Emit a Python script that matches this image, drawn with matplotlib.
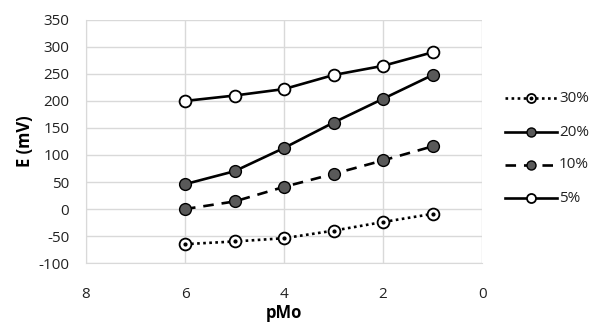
import matplotlib
matplotlib.use("Agg")
import matplotlib.pyplot as plt
from matplotlib.lines import Line2D

pmo = [6, 5, 4, 3, 2, 1]
s30 = [-65, -60, -54, -40, -24, -9]
s20 = [46, 70, 113, 160, 204, 248]
s10 = [0, 14, 41, 65, 90, 116]
s5 = [200, 210, 222, 248, 265, 290]
labels = ["30%", "20%", "10%", "5%"]

plt.rcParams['font.family'] = ['Open Sans', 'DejaVu Sans']
plt.rcParams['axes.unicode_minus'] = False
W, H = 593, 326
fig = plt.figure(figsize=(W / 100, H / 100), dpi=100)
ax = fig.add_axes([0.145, 0.193, 0.668, 0.746])

lw = 1.9
ms = 8.5
grey = "#595959"

styles = {
    "30%": dict(ls=(0, (1, 1.3)), mfc="white", mew=1.3, dot=True),
    "20%": dict(ls="-", mfc=grey, mew=1.0, dot=False),
    "10%": dict(ls=(0, (4, 3)), mfc=grey, mew=1.0, dot=False),
    "5%": dict(ls="-", mfc="white", mew=1.3, dot=False),
}
series = {"30%": s30, "20%": s20, "10%": s10, "5%": s5}

for lab in labels:
    st = styles[lab]
    ax.plot(pmo, series[lab], color="black", lw=lw, ls=st["ls"], marker="o", ms=ms,
            mfc=st["mfc"], mec="black", mew=st["mew"], zorder=3)
    if st["dot"]:
        ax.plot(pmo, series[lab], ls="none", marker="o", ms=2, mfc="black",
                mec="black", zorder=4)

ax.set_xlim(8, 0)
ax.set_ylim(-100, 350)
ax.set_xticks([8, 6, 4, 2, 0])
ax.set_yticks(range(-100, 351, 50))
ax.grid(True, color="#d9d9d9", lw=1.0)
ax.set_axisbelow(True)
for sp in ["top", "right"]:
    ax.spines[sp].set_visible(False)
for sp in ["left", "bottom"]:
    ax.spines[sp].set_color("#d9d9d9")
ax.tick_params(length=0, labelsize=11, colors="#222222")
ax.tick_params(axis="y", pad=12)
ax.tick_params(axis="x", pad=17)
ax.set_xlabel("pMo", fontsize=12, fontweight="bold", labelpad=2)
ax.set_ylabel("E (mV)", fontsize=12, fontweight="bold", labelpad=3)

# legend drawn manually in figure coordinates
lms = 6.5
row_y = [98, 132, 165, 198]
x0, xm, x1, xt = 505, 531, 557, 559
for lab, yp in zip(labels, row_y):
    st = styles[lab]
    yf = 1 - yp / H
    fig.add_artist(Line2D([x0 / W, x1 / W], [yf, yf], color="black", lw=lw,
                          ls=st["ls"], transform=fig.transFigure))
    fig.add_artist(Line2D([xm / W], [yf], ls="none", marker="o", ms=lms,
                          mfc=st["mfc"], mec="black", mew=st["mew"],
                          transform=fig.transFigure))
    if st["dot"]:
        fig.add_artist(Line2D([xm / W], [yf], ls="none", marker="o", ms=1.8,
                              mfc="black", mec="black", transform=fig.transFigure))
    fig.text(xt / W, yf, lab, fontsize=11, va="center", ha="left", color="#222222")

fig.savefig("out.png", dpi=100)
